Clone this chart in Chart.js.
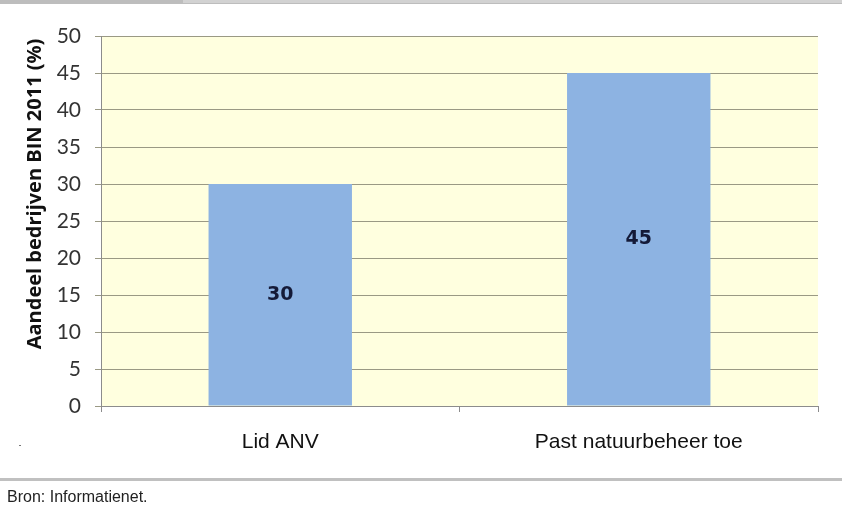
<!DOCTYPE html>
<html>
<head>
<meta charset="utf-8">
<script src="https://cdn.jsdelivr.net/npm/chart.js@4"></script>
<style>
  body { margin: 0; background: #fff; width: 842px; height: 507px; position: relative; overflow: hidden; }
  #topBar { position: absolute; left: 0; top: 0; width: 842px; height: 4px; background: #bdbdbd; }
  #topBar2 { position: absolute; left: 183px; top: 0; width: 659px; height: 3px; background: #d2d2d2; }
  #wrap { position: absolute; left: 0; top: 0; width: 842px; height: 470px; }
  #bottomBar { position: absolute; left: 0; top: 478px; width: 842px; height: 3px; background: #c0c0c0; }
  #source { position: absolute; left: 7px; top: 488px; font-family: "Liberation Sans", sans-serif; font-size: 16px; color: #222; }
  #dot { position: absolute; left: 19px; top: 445px; width: 2px; height: 1px; background: #777; }
</style>
</head>
<body>
<div id="topBar"></div>
<div id="topBar2"></div>
<div id="wrap"><canvas id="barChart"></canvas></div>
<div id="dot"></div>
<div id="bottomBar"></div>
<div id="source">Bron: Informatienet.</div>
<script>
// chart data
const categories = ["Lid ANV", "Past natuurbeheer toe"];
const shares = [30, 45];
const yTitle = "Aandeel bedrijven BIN 2011 (%)";

// yellow plot background + labels inside bars + y title
const plotDecor = {
  id: "plotDecor",
  beforeDraw(chart) {
    const { ctx, chartArea: a } = chart;
    ctx.save();
    ctx.fillStyle = "#ffffdf";
    ctx.fillRect(a.left, a.top, a.right - a.left, a.bottom - a.top);
    ctx.restore();
  },
  afterDatasetsDraw(chart) {
    const ctx = chart.ctx;
    const meta = chart.getDatasetMeta(0);
    ctx.save();
    ctx.font = "bold 19px 'DejaVu Sans'";
    ctx.fillStyle = "#141a38";
    ctx.textAlign = "center";
    ctx.textBaseline = "middle";
    meta.data.forEach((bar, i) => {
      const p = bar.getProps(["x", "y", "base"], true);
      ctx.fillText(String(shares[i]), p.x, (p.y + p.base) / 2);
    });
    // y axis title, rotated
    ctx.translate(35, 194);
    ctx.rotate(-Math.PI / 2);
    ctx.font = "bold 20px 'Open Sans'";
    ctx.fillStyle = "#111";
    ctx.fillText(yTitle, 0, 0);
    ctx.restore();
  }
};

window.onload = () => {
  const ctx = document.getElementById("barChart").getContext("2d");
  new Chart(ctx, {
    type: "bar",
    data: {
      labels: categories,
      datasets: [{
        data: shares,
        backgroundColor: "#8db3e2",
        borderWidth: 0,
        barPercentage: 0.5,
        categoryPercentage: 0.8
      }]
    },
    options: {
      responsive: true,
      maintainAspectRatio: false,
      animation: false,
      layout: { padding: { left: 0, right: 24, top: 36, bottom: 0 } },
      plugins: {
        legend: { display: false },
        tooltip: { enabled: false }
      },
      scales: {
        x: {
          afterFit: scale => { scale.height = 64; },
          border: { color: "#8c8c8c", width: 1 },
          grid: { drawOnChartArea: false, color: "#8c8c8c", tickLength: 6, offset: true },
          ticks: { color: "#111", padding: 18, font: { family: "'Liberation Sans'", size: 21 } }
        },
        y: {
          min: 0,
          max: 50,
          afterFit: scale => { scale.width = 101; },
          border: { color: "#8c8c8c", width: 1 },
          grid: { color: "#9a9984", tickLength: 6 },
          ticks: { stepSize: 5, color: "#333", padding: 14, font: { family: "Lato", size: 21 } }
        }
      }
    },
    plugins: [plotDecor]
  });
};
</script>
</body>
</html>
